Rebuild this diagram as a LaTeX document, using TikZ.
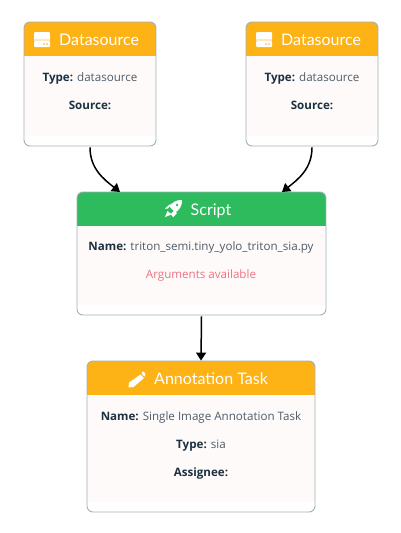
\documentclass[tikz,border=0pt]{standalone}
\usepackage{fontspec}
\setmainfont{Noto Sans}
\newfontfamily\titlefont{Lato}
\newfontfamily\bodyfont{Open Sans}
\usepackage{xcolor}
\definecolor{amberhead}{HTML}{FDB216}
\definecolor{greenhead}{HTML}{2DBB5E}
\definecolor{cardbody}{HTML}{FEFAF9}
\definecolor{cardline}{HTML}{A3B1B5}
\definecolor{labelink}{HTML}{1B3040}
\definecolor{valueink}{HTML}{4E5C68}
\definecolor{argsink}{HTML}{F0727F}
\usetikzlibrary{arrows.meta}
\begin{document}
\begin{tikzpicture}[x=1pt,y=1pt]
    \tikzset{card/.style={draw=cardline,line width=0.9pt,rounded corners=6pt,fill=white,inner sep=0pt,
        path picture={
            \fill[cardbody,sharp corners] ([yshift=-34pt]path picture bounding box.north west) rectangle ([yshift=10pt]path picture bounding box.south east);
            \fill[#1,sharp corners] (path picture bounding box.north west) rectangle ([yshift=-34pt]path picture bounding box.north east);
        }}}
    \tikzstyle{title}=[text=white,font=\titlefont\fontsize{16}{18}\selectfont,anchor=base west,inner sep=0pt]
    \tikzstyle{line}=[text=valueink,font=\bodyfont\fontsize{11.6}{14}\selectfont,anchor=base,inner sep=0pt]
    \tikzstyle{link}=[-{Triangle[length=8pt,width=10pt]},line width=1.5pt,black]
    \useasboundingbox (0,0) rectangle (400,-533);
    \fill[white] (0,0) rectangle (400,-533);

    % Draw the cards
    \foreach \name/\xa/\ya/\xb/\yb/\headcol in {ds-1/24/22/156/146/amberhead, ds-2/246/22/378/146/amberhead,
        script/77/192/326/315/greenhead, task/87/361/315/512/amberhead}
    {
        \node[card=\headcol,minimum width=\xb pt-\xa pt,minimum height=\yb pt-\ya pt] (\name) at ({(\xa+\xb)/2},{-(\ya+\yb)/2}) {};
    }

    % Draw the server icons
    \foreach \dx/\id in {0/1,222/2}
    {
        \begin{scope}[xshift=\dx pt]
            \fill[white,rounded corners=1pt] (34,-32) rectangle (50,-39.5);
            \fill[white!70!amberhead] (34,-39) rectangle (50,-41);
            \fill[white,rounded corners=1pt] (34,-41) rectangle (50,-47);
            \fill[amberhead] (44,-44) circle (0.9);
            \fill[amberhead] (47,-44) circle (0.9);
        \end{scope}
        \node[title] (ds-title-\id) at (59+\dx,-45.5) {Datasource};
        \node[line] (ds-type-\id) at (90+\dx,-81) {\textbf{\color{labelink}Type:} datasource};
        \node[line] (ds-source-\id) at (90+\dx,-109) {\textbf{\color{labelink}Source:}};
    }

    % Draw the rocket icon
    \fill[white] (182,-200) .. controls (176,-199.5) and (172,-203) .. (169.5,-206.5)
        -- (175.5,-212.5) .. controls (179,-210) and (182.5,-206) .. (182,-200) -- cycle;
    \fill[white] (168.7,-205.2) -- (172,-203.5) -- (168,-208.5) -- (164.8,-208.8) -- cycle;
    \fill[white] (176.8,-213.3) -- (175,-210) -- (170.5,-214) -- (173.2,-217.2) -- cycle;
    \fill[white] (167.5,-211) -- (171.5,-214.5) -- (165,-217) -- cycle;
    \fill[greenhead] (177,-205) circle (1.4);

    \node[title] (script-title) at (190.5,-215) {Script};
    \node[line] (script-name) at (201,-250) {\textbf{\color{labelink}Name:} triton\_semi.tiny\_yolo\_triton\_sia.py};
    \node[line,text=argsink] (script-args) at (201,-278) {Arguments available};

    % Draw the pencil icon
    \fill[white] (140.5,-374.5) -- (144,-378) -- (133.5,-387) -- (128.5,-387.5) -- (129,-382.5) -- cycle;
    \fill[white,rounded corners=0.8pt] (141.5,-373.5) -- (143,-371) -- (145.5,-373.5) -- (145,-375) -- (145,-377) -- cycle;

    \node[title] (task-title) at (154,-384.5) {Annotation Task};
    \node[line] (task-name) at (201,-420) {\textbf{\color{labelink}Name:} Single Image Annotation Task};
    \node[line] (task-type) at (201,-448) {\textbf{\color{labelink}Type:} sia};
    \node[line] (task-user) at (201,-476) {\textbf{\color{labelink}Assignee:}};

    % Draw the connectors
    \coordinate (script-in-1) at (120,-192);
    \coordinate (script-in-2) at (282,-192);
    \draw[link] ([yshift=-1pt]ds-1.south) to[out=-90,in=142] (script-in-1);
    \draw[link] ([yshift=-1pt]ds-2.south) to[out=-90,in=38] (script-in-2);
    \draw[link] ([yshift=-1pt]script.south) -- (task.north);
\end{tikzpicture}
\end{document}
